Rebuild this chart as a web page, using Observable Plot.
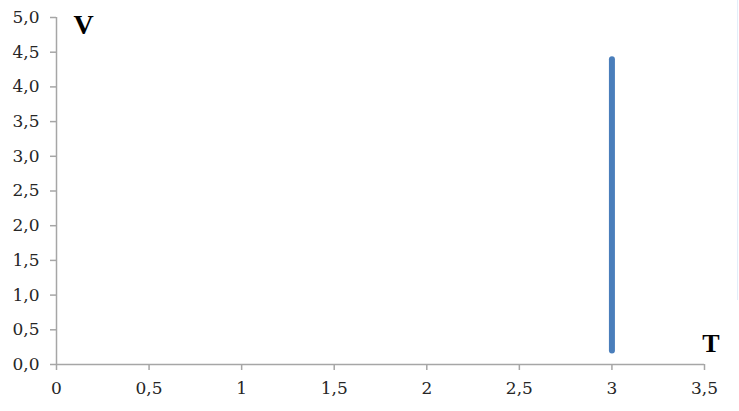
<!DOCTYPE html>
<html>
<head>
<meta charset="utf-8">
<script src="https://cdn.jsdelivr.net/npm/d3@7"></script>
<script src="https://cdn.jsdelivr.net/npm/@observablehq/plot@0.6"></script>
<style>
  html, body { margin: 0; padding: 0; background: #fff; }
  #wrap { position: relative; width: 739px; height: 411px; }
  #chart svg { display: block; }
  #edge { position: absolute; left: 737px; top: 0; width: 1px; height: 300px; background: #e3eefa; }
</style>
</head>
<body>
<div id="wrap"><div id="chart"></div><div id="edge"></div></div>
<script>
const xTicks = [0, 0.5, 1, 1.5, 2, 2.5, 3, 3.5];
const yTicks = [0, 0.5, 1, 1.5, 2, 2.5, 3, 3.5, 4, 4.5, 5];
const lineT = [3, 3];
const lineV = [0.2, 4.4];
const xLabel = "T";
const yLabel = "V";

const lineData = lineT.map((t, i) => ({T: t, V: lineV[i]}));
const axisColor = "#a6a6a6";
const textColor = "#262626";
const tickFont = "'DejaVu Serif', 'Liberation Serif', serif";
const labelFont = "'Liberation Serif', 'DejaVu Serif', serif";

const chart = Plot.plot({
  width: 739,
  height: 411,
  marginLeft: 56,
  marginRight: 35,
  marginTop: 17,
  marginBottom: 47,
  style: {fontFamily: tickFont, fontSize: "17px", color: textColor, background: "#fff"},
  x: {domain: [0, 3.5]},
  y: {domain: [0, 5]},
  marks: [
    Plot.ruleY([0], {stroke: axisColor, strokeWidth: 1.5}),
    Plot.ruleX([0], {stroke: axisColor, strokeWidth: 1.5}),
    Plot.axisX({
      ticks: xTicks, tickSize: 6, tickPadding: 11, stroke: axisColor, strokeWidth: 1.5,
      tickFormat: d => String(d).replace(".", ","), label: null, fill: textColor,
      fontSize: 17, fontFamily: tickFont
    }),
    Plot.axisY({
      ticks: yTicks, tickSize: 6, tickPadding: 11, stroke: axisColor, strokeWidth: 1.5,
      tickFormat: d => d.toFixed(1).replace(".", ","), label: null, fill: textColor,
      fontSize: 17, fontFamily: tickFont
    }),
    Plot.line(lineData, {x: "T", y: "V", stroke: "#4a7ebb", strokeWidth: 6, strokeLinecap: "round"}),
    Plot.text([yLabel], {frameAnchor: "top-left", dx: 17, dy: -3, fontSize: 28, fontWeight: "bold", fill: "#000", fontFamily: labelFont}),
    Plot.text([xLabel], {frameAnchor: "bottom-right", dx: 15, dy: -13, fontSize: 26, fontWeight: "bold", fill: "#000", fontFamily: labelFont})
  ]
});
document.getElementById("chart").appendChild(chart);
</script>
</body>
</html>
